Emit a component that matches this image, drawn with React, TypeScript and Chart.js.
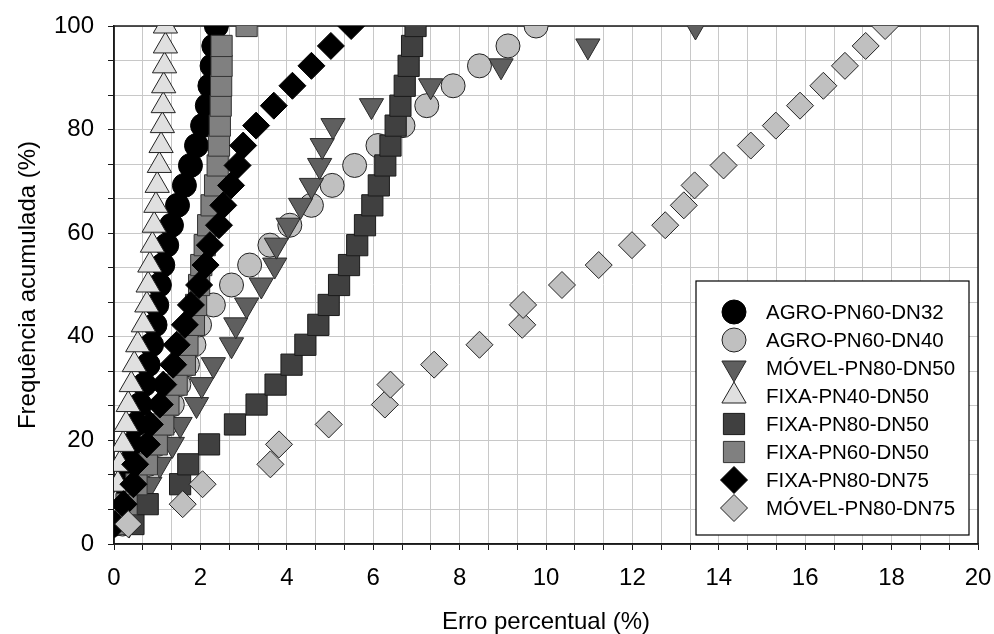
import React, { useEffect, useRef } from "react";
import { Chart, registerables } from "chart.js";
import { drawPoint } from "chart.js/helpers";

Chart.register(...registerables);

// Cumulative frequency levels (%)
const cumFreq = [3.85, 7.69, 11.54, 15.38, 19.23, 23.08, 26.92, 30.77, 34.62, 38.46, 42.31, 46.15, 50, 53.85, 57.69, 61.54, 65.38, 69.23, 73.08, 76.92, 80.77, 84.62, 88.46, 92.31, 96.15, 100];

// Percentual error (%) per series, one per cumulative level
const agroPN60DN32 = [0.03, 0.12, 0.2, 0.3, 0.4, 0.5, 0.6, 0.7, 0.79, 0.87, 0.95, 0.99, 1.05, 1.13, 1.22, 1.33, 1.47, 1.63, 1.77, 1.91, 2.05, 2.16, 2.22, 2.27, 2.31, 2.37];
const agroPN60DN40 = [0.2, 0.4, 0.6, 0.8, 1.0, 1.2, 1.35, 1.5, 1.7, 1.85, 1.98, 2.3, 2.72, 3.14, 3.61, 4.07, 4.57, 5.05, 5.57, 6.11, 6.69, 7.24, 7.85, 8.46, 9.12, 9.77];
const movelPN80DN50 = [0.35, 0.6, 0.83, 1.06, 1.35, 1.53, 1.91, 2.03, 2.3, 2.72, 2.82, 3.07, 3.41, 3.72, 3.76, 4.03, 4.32, 4.57, 4.76, 4.82, 5.07, 5.96, 7.33, 8.96, 10.97, 13.46];
const fixaPN40DN50 = [0.0, 0.03, 0.09, 0.13, 0.21, 0.28, 0.33, 0.4, 0.47, 0.55, 0.68, 0.76, 0.79, 0.83, 0.89, 0.93, 0.97, 1.0, 1.05, 1.09, 1.12, 1.14, 1.15, 1.17, 1.19, 1.19];
const fixaPN80DN50 = [0.45, 0.78, 1.53, 1.72, 2.2, 2.8, 3.3, 3.74, 4.11, 4.43, 4.73, 4.97, 5.21, 5.44, 5.63, 5.81, 5.98, 6.13, 6.28, 6.4, 6.52, 6.63, 6.73, 6.82, 6.9, 6.98];
const fixaPN60DN50 = [0.05, 0.29, 0.52, 0.76, 0.99, 1.14, 1.26, 1.45, 1.64, 1.7, 1.85, 1.9, 1.97, 2.02, 2.1, 2.18, 2.26, 2.34, 2.4, 2.43, 2.45, 2.47, 2.48, 2.49, 2.49, 3.07];
const fixaPN80DN75 = [0.02, 0.22, 0.45, 0.49, 0.76, 0.83, 1.06, 1.14, 1.37, 1.45, 1.64, 1.78, 1.97, 2.12, 2.22, 2.43, 2.53, 2.71, 2.86, 2.99, 3.29, 3.7, 4.13, 4.57, 5.02, 5.49];
const movelPN80DN75 = [0.33, 1.59, 2.05, 3.62, 3.82, 4.97, 6.27, 6.4, 7.41, 8.46, 9.45, 9.47, 10.37, 11.22, 11.99, 12.76, 13.19, 13.44, 14.11, 14.74, 15.32, 15.88, 16.42, 16.92, 17.4, 17.85];

const seriesNames = ["AGRO-PN60-DN32", "AGRO-PN60-DN40", "MÓVEL-PN80-DN50", "FIXA-PN40-DN50", "FIXA-PN80-DN50", "FIXA-PN60-DN50", "FIXA-PN80-DN75", "MÓVEL-PN80-DN75"];
const seriesValues = [agroPN60DN32, agroPN60DN40, movelPN80DN50, fixaPN40DN50, fixaPN80DN50, fixaPN60DN50, fixaPN80DN75, movelPN80DN75];

// Axis ticks: labelled majors with two unlabelled minors between
const xMin = 0, xMax = 20, xMajor = 2;
const yMin = 0, yMax = 100, yMajor = 20;
const minorPerMajor = 3;

const styles = [
  { pointStyle: "circle", radius: 12, rotation: 0, fill: "#000000", border: "#000000" },
  { pointStyle: "circle", radius: 12, rotation: 0, fill: "#c0c0c0", border: "#222222" },
  { pointStyle: "triangle", radius: 14, rotation: 180, fill: "#5f5f5f", border: "#2a2a2a" },
  { pointStyle: "triangle", radius: 14, rotation: 0, fill: "#e0e0e0", border: "#222222" },
  { pointStyle: "rect", radius: 15, rotation: 0, fill: "#404040", border: "#1a1a1a" },
  { pointStyle: "rect", radius: 15, rotation: 0, fill: "#808080", border: "#333333" },
  { pointStyle: "rectRot", radius: 13.5, rotation: 0, fill: "#000000", border: "#000000" },
  { pointStyle: "rectRot", radius: 13.5, rotation: 0, fill: "#c0c0c0", border: "#222222" },
];

const FONT = "'Liberation Sans', Arial, Helvetica, sans-serif";

const isMultiple = (v: number, m: number) => Math.abs(v / m - Math.round(v / m)) < 1e-6;

const framePlugin = {
  id: "frame",
  beforeDatasetsDraw(chart: any) {
    const { ctx, chartArea } = chart;
    ctx.save();
    ctx.strokeStyle = "#1a1a1a";
    ctx.lineWidth = 1.5;
    ctx.strokeRect(chartArea.left, chartArea.top, chartArea.right - chartArea.left, chartArea.bottom - chartArea.top);
    ctx.restore();
  },
};

const legendPlugin = {
  id: "boxLegend",
  afterDraw(chart: any) {
    const { ctx } = chart;
    const boxL = 696, boxT = 281, boxR = 969, boxB = 535;
    ctx.save();
    ctx.fillStyle = "#ffffff";
    ctx.fillRect(boxL, boxT, boxR - boxL, boxB - boxT);
    ctx.strokeStyle = "#000000";
    ctx.lineWidth = 1.2;
    ctx.strokeRect(boxL, boxT, boxR - boxL, boxB - boxT);
    const datasets = chart.data.datasets;
    datasets.forEach((ds: any, i: number) => {
      const cy = 312 + i * 28;
      ctx.fillStyle = ds.backgroundColor;
      ctx.strokeStyle = ds.borderColor;
      ctx.lineWidth = 1;
      drawPoint(ctx, { pointStyle: ds.pointStyle, radius: ds.pointRadius, rotation: ds.rotation || 0, borderWidth: 1 }, 734, cy);
      ctx.fillStyle = "#000000";
      ctx.font = `20.5px ${FONT}`;
      ctx.textAlign = "left";
      ctx.textBaseline = "middle";
      ctx.fillText(ds.label, 766, cy + 1);
    });
    ctx.restore();
  },
};

export default function App() {
  const canvasRef = useRef<HTMLCanvasElement | null>(null);

  useEffect(() => {
    const canvas = canvasRef.current;
    if (!canvas) return;

    const datasets = seriesValues.map((vals, si) => {
      const st = styles[si];
      return {
        label: seriesNames[si],
        data: vals.map((x, i) => ({ x, y: cumFreq[i] })),
        pointStyle: st.pointStyle,
        pointRadius: st.radius,
        pointHoverRadius: st.radius,
        rotation: st.rotation,
        backgroundColor: st.fill,
        borderColor: st.border,
        borderWidth: 1,
        showLine: false,
        order: seriesValues.length - si,
      };
    });

    const xTicks: number[] = [];
    const nx = ((xMax - xMin) / xMajor) * minorPerMajor;
    for (let i = 0; i <= nx; i++) xTicks.push(xMin + (i * xMajor) / minorPerMajor);
    const yTicks: number[] = [];
    const ny = ((yMax - yMin) / yMajor) * minorPerMajor;
    for (let i = 0; i <= ny; i++) yTicks.push(yMin + (i * yMajor) / minorPerMajor);

    const chart = new Chart(canvas, {
      type: "scatter",
      data: { datasets: datasets as any },
      options: {
        animation: false,
        responsive: false,
        maintainAspectRatio: false,
        events: [],
        layout: { padding: { top: 26, right: 15, left: 0, bottom: 0 } },
        plugins: {
          legend: { display: false },
          tooltip: { enabled: false },
        },
        scales: {
          x: {
            type: "linear",
            position: "bottom",
            min: xMin,
            max: xMax,
            afterBuildTicks: (s: any) => {
              s.ticks = xTicks.map((v) => ({ value: v }));
            },
            afterFit: (s: any) => {
              s.height = 90;
              s.paddingLeft = 0;
              s.paddingRight = 0;
            },
            ticks: {
              autoSkip: false,
              maxRotation: 0,
              padding: 14,
              color: "#000",
              font: { size: 24, family: FONT },
              callback: (v: any) => (isMultiple(Number(v), xMajor) ? String(Math.round(Number(v))) : ""),
            },
            grid: { color: "#c8c8c8", lineWidth: 1, tickLength: 6, tickColor: "#1a1a1a", drawTicks: true },
            border: { color: "#1a1a1a", width: 1.5 },
            title: {
              display: true,
              text: "Erro percentual (%)",
              color: "#000",
              font: { size: 24, family: FONT, lineHeight: 1 },
              padding: { top: 0, bottom: 0 },
            },
          },
          y: {
            type: "linear",
            position: "left",
            min: yMin,
            max: yMax,
            afterBuildTicks: (s: any) => {
              s.ticks = yTicks.map((v) => ({ value: v }));
            },
            afterFit: (s: any) => {
              s.width = 114;
              s.paddingTop = 0;
              s.paddingBottom = 0;
            },
            ticks: {
              autoSkip: false,
              padding: 14,
              color: "#000",
              font: { size: 24, family: FONT },
              callback: (v: any) => (isMultiple(Number(v), yMajor) ? String(Math.round(Number(v))) : ""),
            },
            grid: { color: "#c8c8c8", lineWidth: 1, tickLength: 6, tickColor: "#1a1a1a", drawTicks: true },
            border: { color: "#1a1a1a", width: 1.5 },
            title: {
              display: true,
              text: "Frequência acumulada (%)",
              color: "#000",
              font: { size: 24, family: FONT, lineHeight: 1.2 },
              padding: { top: 14, bottom: 0 },
            },
          },
        },
      },
      plugins: [framePlugin, legendPlugin],
    });

    return () => chart.destroy();
  }, []);

  return (
    <div style={{ position: "fixed", left: 0, top: 0, width: 994, height: 634, background: "#fff" }}>
      <canvas ref={canvasRef} width={994} height={634} style={{ display: "block" }} />
    </div>
  );
}
